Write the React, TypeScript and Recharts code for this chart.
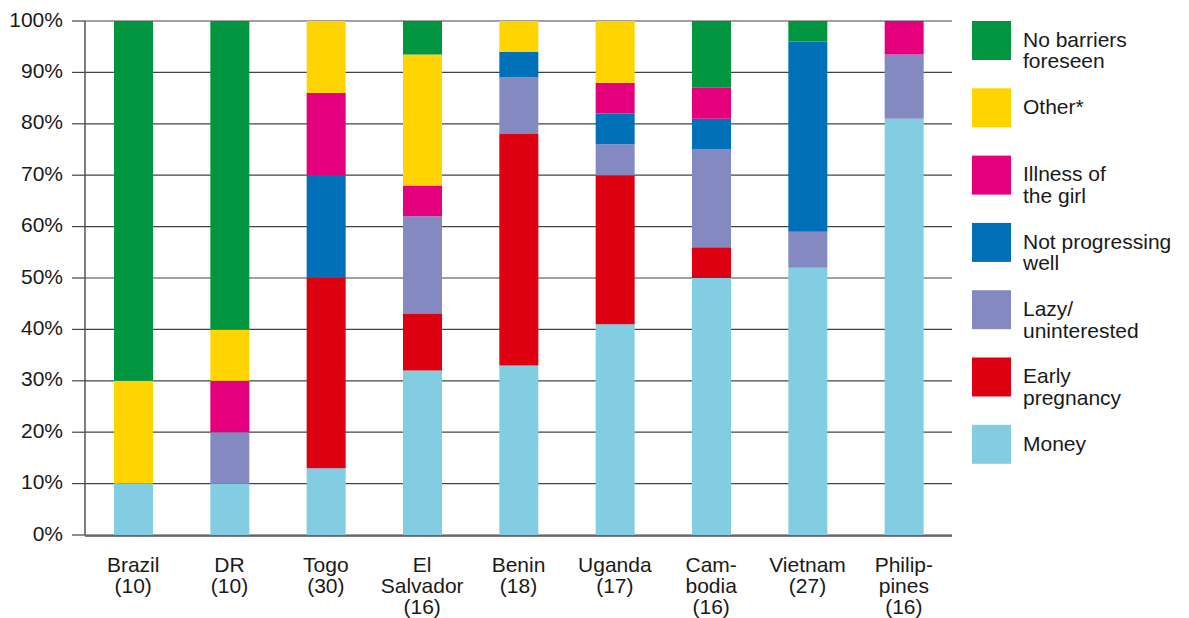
import { BarChart, Bar, XAxis, YAxis, CartesianGrid, Legend } from 'recharts';

const COUNTRIES = ['Brazil', 'DR', 'Togo', 'El Salvador', 'Benin', 'Uganda', 'Cambodia', 'Vietnam', 'Philippines'];
const TICK_LINES = [
    ['Brazil', '(10)'],
    ['DR', '(10)'],
    ['Togo', '(30)'],
    ['El', 'Salvador', '(16)'],
    ['Benin', '(18)'],
    ['Uganda', '(17)'],
    ['Cam-', 'bodia', '(16)'],
    ['Vietnam', '(27)'],
    ['Philip-', 'pines', '(16)'],
];

// stacked bottom to top
const MONEY = [10, 10, 13, 32, 33, 41, 50, 52, 81];
const EARLY_PREGNANCY = [0, 0, 37, 11, 45, 29, 6, 0, 0];
const LAZY = [0, 10, 0, 19, 11, 6, 19, 7, 12.5];
const NOT_PROGRESSING = [0, 0, 20, 0, 5, 6, 6, 37, 0];
const ILLNESS = [0, 10, 16, 6, 0, 6, 6, 0, 6.5];
const OTHER = [20, 10, 14, 25.5, 6, 12, 0, 0, 0];
const NO_BARRIERS = [70, 60, 0, 6.5, 0, 0, 13, 4, 0];

const Y_TICKS = [0, 10, 20, 30, 40, 50, 60, 70, 80, 90, 100];

const SERIES = [
    { key: 'money', label: ['Money'], color: '#82cde2', values: MONEY },
    { key: 'early', label: ['Early', 'pregnancy'], color: '#dc0011', values: EARLY_PREGNANCY },
    { key: 'lazy', label: ['Lazy/', 'uninterested'], color: '#8589c2', values: LAZY },
    { key: 'notProg', label: ['Not progressing', 'well'], color: '#0070b8', values: NOT_PROGRESSING },
    { key: 'illness', label: ['Illness of', 'the girl'], color: '#e4007c', values: ILLNESS },
    { key: 'other', label: ['Other*'], color: '#ffd400', values: OTHER },
    { key: 'noBarriers', label: ['No barriers', 'foreseen'], color: '#00963f', values: NO_BARRIERS },
];

const data = COUNTRIES.map((country, i) => {
    const row: Record<string, string | number> = { country };
    SERIES.forEach((s) => {
        row[s.key] = s.values[i];
    });
    return row;
});

const FONT = '"Liberation Sans", Arial, Helvetica, sans-serif';
const TEXT = '#1a1a1a';
const GRID = '#444';
const AXIS = '#555';

const CountryTick = (props: any) => {
    const { x, y, index } = props;
    const lines = TICK_LINES[index] || [];
    return (
        <text x={x} y={y + 37} textAnchor="middle" fill={TEXT} fontSize={21} fontFamily={FONT}>
            {lines.map((l, i) => (
                <tspan key={i} x={x} dy={i === 0 ? 0 : 21}>
                    {l}
                </tspan>
            ))}
        </text>
    );
};

const PercentTick = (props: any) => {
    const { x, y, payload } = props;
    return (
        <text x={x} y={y} dy={5.5} textAnchor="end" fill={TEXT} fontSize={21} fontFamily={FONT}>
            {payload.value}%
        </text>
    );
};

const renderLegend = () => {
    const items = [...SERIES].reverse();
    return (
        <svg width={217} height={470} style={{ display: 'block' }}>
            {items.map((s, i) => {
                const top = i * 67.3;
                return (
                    <g key={s.key}>
                        <rect x={0} y={top} width={39} height={39} fill={s.color} />
                        <text x={51} y={top + 25.7} fill={TEXT} fontSize={21} fontFamily={FONT}>
                            {s.label.map((l, j) => (
                                <tspan key={j} x={51} dy={j === 0 ? 0 : 21.6}>
                                    {l}
                                </tspan>
                            ))}
                        </text>
                    </g>
                );
            })}
        </svg>
    );
};

export default function App() {
    return (
        <div style={{ position: 'absolute', left: 0, top: 0, width: 1189, height: 618, background: '#fff' }}>
            <BarChart
                width={1189}
                height={618}
                data={data}
                margin={{ top: 21, right: 237, bottom: 0, left: 0 }}
            >
                <CartesianGrid vertical={false} stroke={GRID} strokeWidth={1.2} />
                <XAxis
                    dataKey="country"
                    height={1}
                    axisLine={false}
                    tickLine={false}
                    tickSize={0}
                    tickMargin={0}
                    interval={0}
                    tick={<CountryTick />}
                />
                <XAxis
                    xAxisId="edge"
                    type="number"
                    domain={[0, 9]}
                    ticks={[0, 9]}
                    tick={false}
                    height={82}
                    tickSize={12}
                    axisLine={{ stroke: AXIS, strokeWidth: 1.5 }}
                    tickLine={{ stroke: AXIS, strokeWidth: 1.5 }}
                    allowDataOverflow
                />
                <YAxis
                    width={85}
                    domain={[0, 100]}
                    ticks={Y_TICKS}
                    interval={0}
                    tickSize={13}
                    tickMargin={9}
                    axisLine={{ stroke: AXIS, strokeWidth: 1.5 }}
                    tickLine={{ stroke: GRID, strokeWidth: 1.2 }}
                    tick={<PercentTick />}
                />
                <Legend
                    content={renderLegend}
                    layout="vertical"
                    align="center"
                    verticalAlign="middle"
                    wrapperStyle={{ position: 'absolute', left: 972, top: 21, width: 217 }}
                />
                {SERIES.map((s) => (
                    <Bar
                        key={s.key}
                        dataKey={s.key}
                        stackId="a"
                        fill={s.color}
                        barSize={39}
                        isAnimationActive={false}
                    />
                ))}
            </BarChart>
        </div>
    );
}
